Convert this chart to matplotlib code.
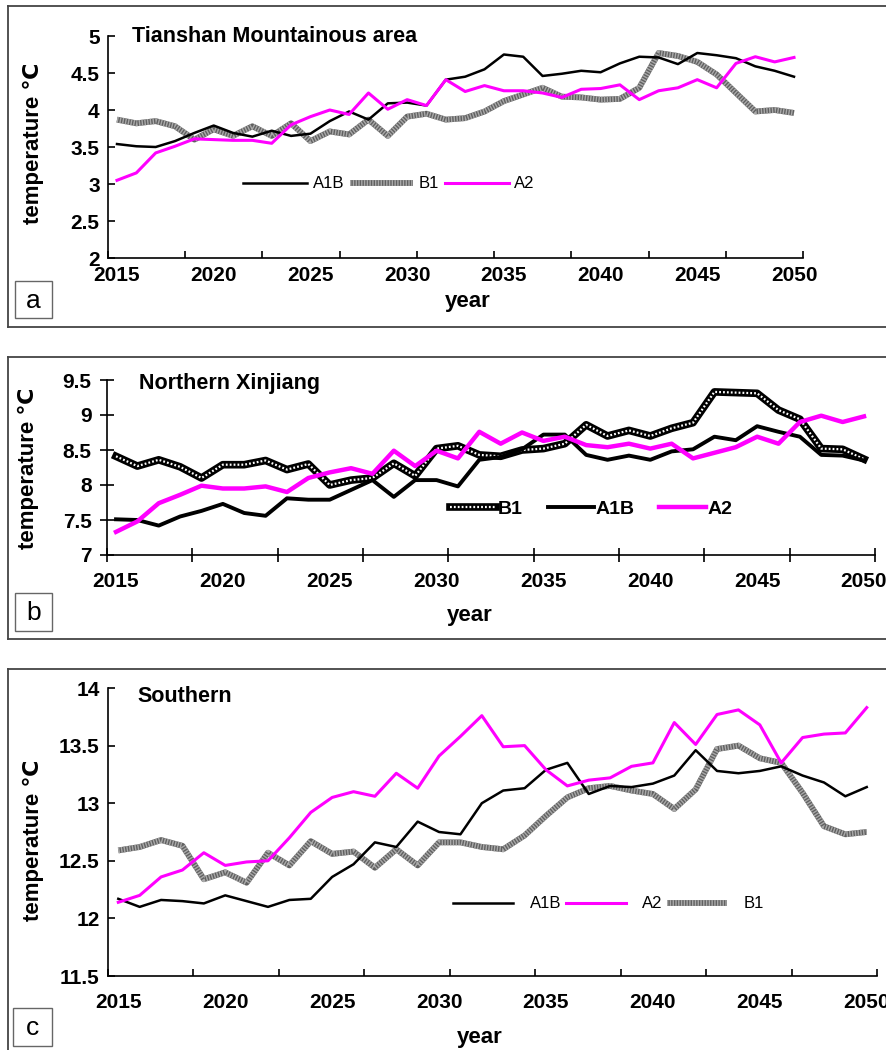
import numpy as np
import matplotlib
matplotlib.use("Agg")
import matplotlib.pyplot as plt
from matplotlib.lines import Line2D
from matplotlib.patches import Rectangle
from matplotlib.legend_handler import HandlerTuple

plt.rcParams['font.family'] = ['Liberation Sans', 'DejaVu Sans']
plt.rcParams['lines.scale_dashes'] = False

years = list(range(2015, 2051))
year_ticks = list(range(2015, 2051, 5))

# (a) Tianshan Mountainous area
tianshan_a1b = [3.54, 3.51, 3.50, 3.58, 3.69, 3.79, 3.69, 3.64, 3.72, 3.65,
                3.68, 3.85, 3.98, 3.87, 4.09, 4.10, 4.06, 4.41, 4.45, 4.55,
                4.75, 4.72, 4.46, 4.49, 4.53, 4.51, 4.63, 4.72, 4.71, 4.62,
                4.77, 4.74, 4.70, 4.59, 4.53, 4.45]
tianshan_b1 = [3.87, 3.82, 3.85, 3.78, 3.60, 3.74, 3.65, 3.78, 3.65, 3.82,
               3.58, 3.71, 3.67, 3.87, 3.65, 3.91, 3.95, 3.87, 3.89, 3.98,
               4.12, 4.21, 4.30, 4.18, 4.17, 4.14, 4.15, 4.30, 4.77, 4.73,
               4.65, 4.48, 4.23, 3.98, 4.00, 3.96]
tianshan_a2 = [3.05, 3.15, 3.42, 3.51, 3.61, 3.60, 3.59, 3.59, 3.55, 3.80,
               3.91, 4.00, 3.94, 4.23, 4.01, 4.14, 4.06, 4.41, 4.25, 4.33,
               4.26, 4.26, 4.23, 4.17, 4.28, 4.29, 4.34, 4.14, 4.26, 4.30,
               4.41, 4.30, 4.63, 4.72, 4.65, 4.71]

# (b) Northern Xinjiang
north_b1 = [8.41, 8.27, 8.36, 8.26, 8.10, 8.29, 8.29, 8.35, 8.22, 8.30,
            8.00, 8.07, 8.10, 8.31, 8.13, 8.52, 8.56, 8.43, 8.41, 8.50,
            8.52, 8.59, 8.86, 8.70, 8.78, 8.70, 8.81, 8.89, 9.33, 9.32,
            9.31, 9.07, 8.94, 8.52, 8.51, 8.37]
north_a1b = [7.51, 7.50, 7.42, 7.55, 7.63, 7.73, 7.60, 7.56, 7.81, 7.79,
             7.79, 7.93, 8.07, 7.83, 8.07, 8.07, 7.98, 8.36, 8.40, 8.51,
             8.72, 8.72, 8.43, 8.36, 8.42, 8.36, 8.48, 8.51, 8.69, 8.64,
             8.84, 8.76, 8.69, 8.43, 8.42, 8.35]
north_a2 = [7.33, 7.48, 7.74, 7.86, 7.99, 7.95, 7.95, 7.98, 7.90, 8.10,
            8.18, 8.24, 8.16, 8.49, 8.27, 8.49, 8.38, 8.76, 8.59, 8.75,
            8.63, 8.69, 8.57, 8.54, 8.59, 8.52, 8.59, 8.38, 8.46, 8.54,
            8.69, 8.59, 8.90, 8.99, 8.90, 8.98]

# (c) Southern
south_a1b = [12.17, 12.10, 12.16, 12.15, 12.13, 12.20, 12.15, 12.10, 12.16, 12.17,
             12.36, 12.47, 12.66, 12.62, 12.84, 12.75, 12.73, 13.00, 13.11, 13.13,
             13.29, 13.35, 13.08, 13.15, 13.14, 13.17, 13.24, 13.46, 13.28, 13.26,
             13.28, 13.32, 13.24, 13.18, 13.06, 13.14]
south_a2 = [12.14, 12.20, 12.36, 12.42, 12.57, 12.46, 12.49, 12.50, 12.70, 12.92,
            13.05, 13.10, 13.06, 13.26, 13.13, 13.41, 13.58, 13.76, 13.49, 13.50,
            13.29, 13.15, 13.20, 13.22, 13.32, 13.35, 13.70, 13.51, 13.77, 13.81,
            13.68, 13.35, 13.57, 13.60, 13.61, 13.83]
south_b1 = [12.59, 12.62, 12.68, 12.63, 12.34, 12.40, 12.31, 12.57, 12.46, 12.67,
            12.56, 12.58, 12.44, 12.60, 12.46, 12.66, 12.66, 12.62, 12.60, 12.72,
            12.89, 13.05, 13.13, 13.15, 13.11, 13.08, 12.95, 13.12, 13.47, 13.50,
            13.39, 13.35, 13.09, 12.80, 12.73, 12.75]

W, H = 886, 1050
fig = plt.figure(figsize=(W / 100, H / 100), dpi=100)
overlay = {tuple: HandlerTuple(ndivide=1, pad=0)}


def fx(x):
    return x / W


def fy(y):
    return 1 - y / H


def frame(top, bottom):
    # grey panel border, open on the right like the original scan
    kw = dict(transform=fig.transFigure, color='#444444', lw=1.3)
    fig.add_artist(Line2D([fx(8), 1.01], [fy(top), fy(top)], **kw))
    fig.add_artist(Line2D([fx(8), fx(8)], [fy(top), fy(bottom)], **kw))
    fig.add_artist(Line2D([fx(8), 1.01], [fy(bottom), fy(bottom)], **kw))


def letter_box(letter, x0, y0, x1, y1):
    fig.add_artist(Rectangle((fx(x0), fy(y1)), fx(x1 - x0), (y1 - y0) / H,
                             transform=fig.transFigure, fill=False,
                             edgecolor='#666666', lw=1.0))
    fig.text(fx((x0 + x1) / 2), fy((y0 + y1) / 2 + 1), letter, ha='center',
             va='center', fontsize=19)


def grey_line(ax, y):
    base, = ax.plot(years, y, color='#606060', lw=4.2, solid_capstyle='butt', zorder=2)
    over, = ax.plot(years, y, color='#a9a9a9', lw=4.2, dashes=(1.0, 1.0),
                    solid_capstyle='butt', zorder=2)
    return (base, over)


def dotted_line(ax, y):
    base, = ax.plot(years, y, color='black', lw=5.5, zorder=2)
    over, = ax.plot(years, y, color='white', lw=1.6, dashes=(1.3, 1.5), zorder=2)
    return (base, over)


def setup_axes(box, ylim, yticks, xlim, tickdir, ticklen, xpad):
    x0, y0, x1, y1 = box
    ax = fig.add_axes([fx(x0), fy(y1), fx(x1 - x0), (y1 - y0) / H])
    ax.set_xlim(*xlim)
    ax.set_ylim(*ylim)
    for s in ['top', 'right']:
        ax.spines[s].set_visible(False)
    for s in ['left', 'bottom']:
        ax.spines[s].set_linewidth(1.2)
    ax.set_yticks(yticks)
    ax.set_yticklabels(['%g' % v for v in yticks])
    ax.set_xticks(year_ticks)
    ax.set_xticklabels([str(v) for v in year_ticks])
    ax.set_xticks(np.linspace(xlim[0], xlim[1], 10), minor=True)
    ax.tick_params(axis='x', which='major', length=0, pad=xpad)
    ax.tick_params(axis='x', which='minor', direction=tickdir, length=ticklen, width=1.2)
    ax.tick_params(axis='y', direction=tickdir, length=ticklen, width=1.2, pad=6)
    for lab in ax.get_xticklabels() + ax.get_yticklabels():
        lab.set_fontsize(15)
        lab.set_fontweight('bold')
    return ax


def side_labels(x_ylab, y_ylab, x_year, y_year):
    fig.text(fx(x_ylab), fy(y_ylab), 'temperature ℃', rotation=90, ha='center',
             va='center', fontsize=16, fontweight='bold')
    fig.text(fx(x_year), fy(y_year), 'year', ha='center', va='center',
             fontsize=16, fontweight='bold')


# ---- panel a ----
frame(6, 327)
ax = setup_axes((108, 36, 803, 258), (2, 5), [2, 2.5, 3, 3.5, 4, 4.5, 5],
                (2014.535, 2050.465), 'in', 5, 6)
h_a1b, = ax.plot(years, tianshan_a1b, color='black', lw=1.8, zorder=3)
h_b1 = grey_line(ax, tianshan_b1)
h_a2, = ax.plot(years, tianshan_a2, color='#ff00ff', lw=2.2, zorder=3)
fig.text(fx(132), fy(37), 'Tianshan Mountainous area', fontsize=15.5,
         fontweight='bold', va='center')
fig.legend([h_a1b, h_b1, h_a2], ['A1B', 'B1', 'A2'], loc='center left',
           bbox_to_anchor=(fx(235), fy(184)), ncol=3, frameon=False, fontsize=12,
           handlelength=3.8, handletextpad=0.35, columnspacing=0.35,
           borderpad=0, handler_map=overlay)
side_labels(33, 143, 468, 302)
letter_box('a', 15, 281, 52, 318)

# ---- panel b ----
frame(357, 639)
ax = setup_axes((107, 380, 875, 555), (7, 9.5), [7, 7.5, 8, 8.5, 9, 9.5],
                (2014.579, 2050.515), 'inout', 10, 12)
h_b1 = dotted_line(ax, north_b1)
h_a1b, = ax.plot(years, north_a1b, color='black', lw=2.8, zorder=3)
h_a2, = ax.plot(years, north_a2, color='#ff00ff', lw=3.2, zorder=3)
fig.text(fx(139), fy(383), 'Northern Xinjiang', fontsize=15.5,
         fontweight='bold', va='center')
fig.legend([h_b1, h_a1b, h_a2], ['B1', 'A1B', 'A2'], loc='center left',
           bbox_to_anchor=(fx(440), fy(509)), ncol=3, frameon=False,
           prop={'size': 14, 'weight': 'bold'},
           handlelength=2.4, handletextpad=0.05, columnspacing=1.3,
           borderpad=0, handler_map=overlay)
side_labels(28, 468, 470, 615)
letter_box('b', 15, 593, 52, 631)

# ---- panel c ----
frame(669, 1060)
ax = setup_axes((108, 688, 877, 976), (11.5, 14), [11.5, 12, 12.5, 13, 13.5, 14],
                (2014.518, 2050.48), 'in', 5, 12)
h_a1b, = ax.plot(years, south_a1b, color='black', lw=1.8, zorder=3)
h_a2, = ax.plot(years, south_a2, color='#ff00ff', lw=2.2, zorder=3)
h_b1 = grey_line(ax, south_b1)
fig.text(fx(137), fy(697), 'Southern', fontsize=15.5, fontweight='bold', va='center')
fig.legend([h_a1b, h_a2, h_b1], ['A1B', 'A2', 'B1'], loc='center left',
           bbox_to_anchor=(fx(445), fy(904)), ncol=3, frameon=False, fontsize=12,
           handlelength=3.6, handletextpad=1.0, columnspacing=0.25,
           borderpad=0, handler_map=overlay)
side_labels(33, 840, 480, 1038)
letter_box('c', 13, 1008, 52, 1046)

plt.savefig('out.png', dpi=100)
